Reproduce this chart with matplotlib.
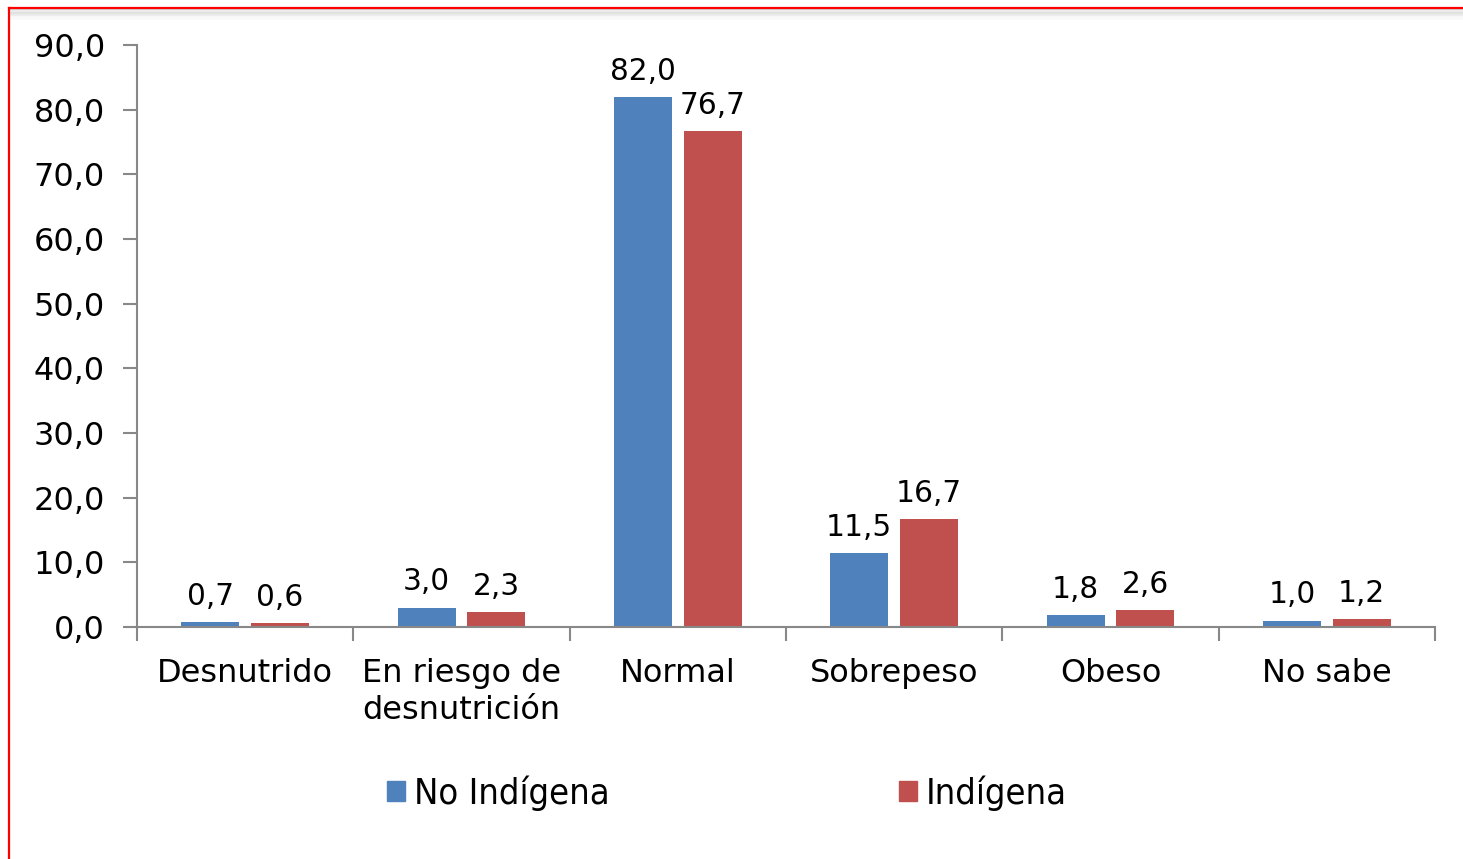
import numpy as np
import matplotlib
matplotlib.use("Agg")
import matplotlib.pyplot as plt
from matplotlib.lines import Line2D
from matplotlib.patches import Patch

# Data
categorias = ["Desnutrido", "En riesgo de\ndesnutrición", "Normal", "Sobrepeso", "Obeso", "No sabe"]
no_indigena = [0.7, 3.0, 82.0, 11.5, 1.8, 1.0]
indigena = [0.6, 2.3, 76.7, 16.7, 2.6, 1.2]
series_names = ["No Indígena", "Indígena"]
y_ticks = [0, 10, 20, 30, 40, 50, 60, 70, 80, 90]

azul = "#4f81bd"
rojo = "#c0504d"
eje = "#888888"

W, H = 1463, 859
fig = plt.figure(figsize=(W / 100, H / 100), dpi=100)
fig.patch.set_facecolor("white")

# axes placement in pixels
x0, x1 = 137, 1435
y_top, y_bot = 45, 627
ax = fig.add_axes([x0 / W, 1 - y_bot / H, (x1 - x0) / W, (y_bot - y_top) / H])

x = np.arange(len(categorias))
bw = 0.268
off = 0.1615
b1 = ax.bar(x - off, no_indigena, bw, color=azul, label=series_names[0])
b2 = ax.bar(x + off, indigena, bw, color=rojo, label=series_names[1])

def fmt(v):
    return f"{v:.1f}".replace(".", ",")

for bars, vals in ((b1, no_indigena), (b2, indigena)):
    for r, v in zip(bars, vals):
        ax.annotate(fmt(v), (r.get_x() + r.get_width() / 2, r.get_height()),
                    xytext=(0, 8), textcoords="offset points",
                    ha="center", va="bottom", fontsize=21.3)

ax.set_xlim(-0.5, len(categorias) - 0.5)
ax.set_ylim(0, 90)
ax.set_yticks(y_ticks)
ax.set_yticklabels([fmt(t) for t in y_ticks], fontsize=23)
ax.set_xticks(x)
ax.set_xticklabels(categorias, fontsize=23, linespacing=1.25)
ax.tick_params(axis="x", length=0, pad=22)
ax.set_xticks(np.arange(-0.5, len(categorias)), minor=True)
ax.tick_params(axis="x", which="minor", length=10, width=1.5, color=eje, direction="out")
ax.tick_params(axis="y", length=10, width=1.5, color=eje, direction="out", pad=13)

for s in ["top", "right"]:
    ax.spines[s].set_visible(False)
for s in ["left", "bottom"]:
    ax.spines[s].set_color(eje)
    ax.spines[s].set_linewidth(1.5)

handles = [Patch(color=azul), Patch(color=rojo)]
leg = fig.legend(handles, series_names, loc="center", bbox_to_anchor=(0.497, 1 - 793 / H),
                 ncol=2, frameon=False, handlelength=0.5, handleheight=0.5,
                 handletextpad=0.25, columnspacing=8.0,
                 prop={"family": "DejaVu Sans", "stretch": "condensed", "size": 26})

# red frame with a faint shadow under the top edge
for i in range(1, 10):
    fig.add_artist(Line2D([9 / W, 1], [1 - (8 + i * 1.2) / H] * 2,
                          color="#000000", alpha=0.012 * (10 - i), lw=1.2))
fig.add_artist(Line2D([9 / W, 9 / W], [0, 1 - 8 / H], color="#ff0000", lw=1.6))
fig.add_artist(Line2D([9 / W, 1], [1 - 8 / H, 1 - 8 / H], color="#ff0000", lw=1.6))

fig.savefig("out.png", dpi=100, facecolor="white")
